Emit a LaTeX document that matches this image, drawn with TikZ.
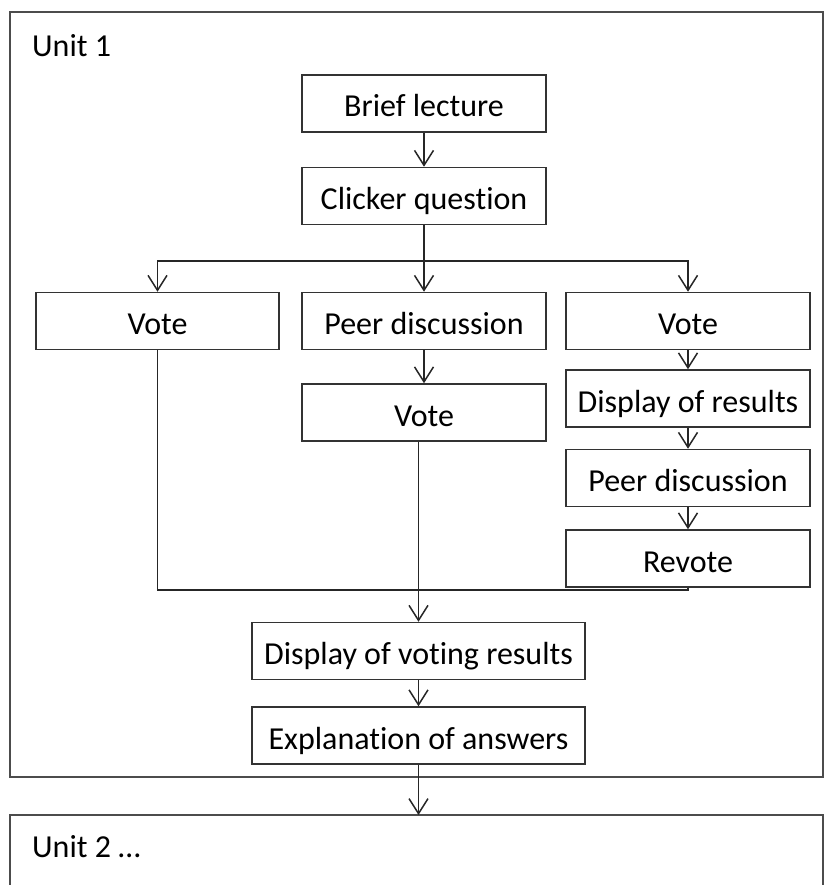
\documentclass[tikz,border=0pt]{standalone}
\usepackage{fontspec}
\setmainfont{Carlito}[Ligatures={NoCommon,NoContextual}]
\usepackage{tikz}
\usetikzlibrary{positioning,arrows.meta}

\begin{document}
\begin{tikzpicture}[
				x=1pt, y=-1pt,
				stepnode/.style={rectangle, draw=black!80, line width=1.5pt, minimum width=244pt, minimum height=57pt, inner sep=2pt, text height=27pt, text depth=0pt, font=\fontsize{32}{36}\selectfont},
				widenode/.style={stepnode, minimum width=333pt},
				unitbox/.style={draw=black!70, line width=1.8pt},
				unitlabel/.style={anchor=base west, inner sep=0pt, font=\fontsize{32}{36}\selectfont},
				flow/.style={line width=1.5pt, draw=black!85},
				>={Straight Barb[length=15pt, width=19pt, line width=1.5pt]},
				]
				\clip (0,0) rectangle (824,885);
				\useasboundingbox (0,0) rectangle (824,885);
				
				%Units
				\draw[unitbox] (10,12) rectangle (823,777);
				\draw[unitbox] (10,815) rectangle (823,900);
				\node[unitlabel](unit1) at (32,57){Unit 1};
				\node[unitlabel](unit2) at (32,857){Unit 2 \ldots};
				
				%Nodes
				\node[stepnode](brief) at (424,103.5){Brief lecture};
				\node[stepnode](clicker)[below=34pt of brief]{Clicker question};
				\node[stepnode, minimum width=243pt](voteA) at (157.5,321){Vote};
				\node[stepnode](peerB) at (424,321){Peer discussion};
				\node[stepnode](voteB)[below=33pt of peerB]{Vote};
				\node[stepnode](voteC) at (688,321){Vote};
				\node[stepnode](showC)[below=19pt of voteC]{Display of results};
				\node[stepnode](peerC)[below=21pt of showC]{Peer discussion};
				\node[stepnode](revote)[below=22pt of peerC]{Revote};
				\node[widenode](display) at (418.5,651){Display of voting results};
				\node[widenode](explain)[below=26pt of display]{Explanation of answers};
				
				\coordinate (split) at (424,261);
				\coordinate (merge) at (418.5,590);
				\coordinate (next) at (418.5,815);
				
				%Lines
				\draw[flow, ->] (brief.south) -- (clicker.north);
				\draw[flow, ->] (clicker.south) -- (peerB.north);
				\draw[flow, ->] (split) -| (voteA.north);
				\draw[flow, ->] (split) -| (voteC.north);
				\draw[flow, ->] (peerB.south) -- (voteB.north);
				\draw[flow, ->] (voteC.south) -- (showC.north);
				\draw[flow, ->] (showC.south) -- (peerC.north);
				\draw[flow, ->] (peerC.south) -- (revote.north);
				\draw[flow] (voteA.south) |- (merge);
				\draw[flow] (revote.south) |- (merge);
				\draw[flow, ->] (display.north |- voteB.south) -- (display.north);
				\draw[flow, ->] (display.south) -- (explain.north);
				\draw[flow, ->] (explain.south) -- (next);
				
			\end{tikzpicture}
\end{document}
